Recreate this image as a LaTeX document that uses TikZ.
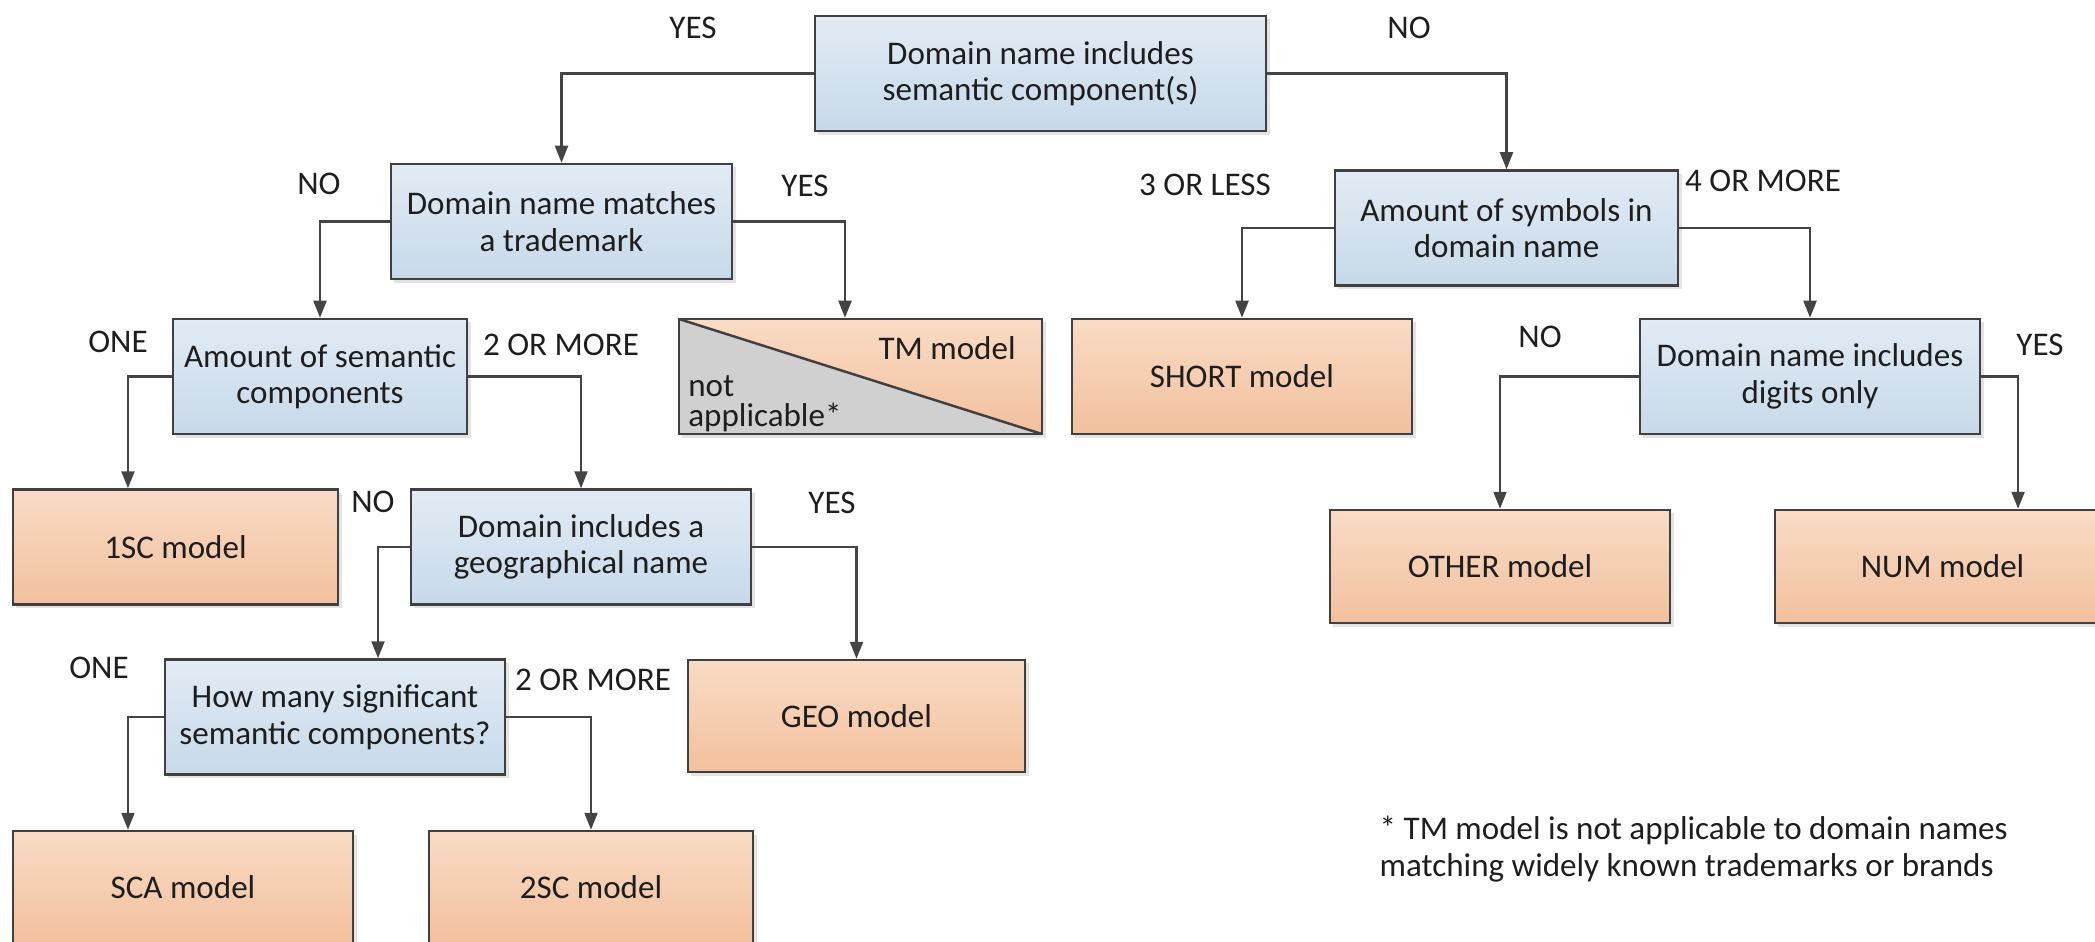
\documentclass[tikz,border=0pt]{standalone}
\usepackage{fontspec}
\setmainfont{Carlito}
\usetikzlibrary{arrows.meta,shadows}
\definecolor{qtop}{HTML}{E2EBF4}
\definecolor{qbot}{HTML}{C7D9EA}
\definecolor{mtop}{HTML}{F9DBC5}
\definecolor{mbot}{HTML}{F2C09D}
\definecolor{tmgray}{HTML}{D0D0D0}
\definecolor{boxline}{HTML}{404040}
\definecolor{wire}{HTML}{444444}
\definecolor{ink}{HTML}{1E1E1E}
\tikzset{
  question/.style={draw=boxline, line width=0.7pt, top color=qtop, bottom color=qbot,
    align=center, text=ink, inner sep=0pt, minimum height=1.15cm,
    drop shadow={shadow xshift=0.035cm, shadow yshift=-0.035cm, opacity=0.22}},
  model/.style={question, top color=mtop, bottom color=mbot},
  answer/.style={text=ink, inner sep=0pt},
  arr/.style={draw=wire, line width=0.6pt, -{Triangle[length=0.17cm,width=0.13cm]}},
}

\begin{document}
\begin{tikzpicture}[x=0.01cm, y=-0.01cm, font=\fontsize{9.4}{10.4}\selectfont]
  %%%%% START %%%%%
  \useasboundingbox (0,0) rectangle (2095,941);
  \clip (0,0) rectangle (2095,941);
  \def\wq{3.40cm}

  \node[question, minimum width=4.51cm] (top) at (1040.5,73.5) {Domain name includes\\semantic component(s)};
  \node[question, minimum width=3.41cm] (q2) at (561.5,221.5) {Domain name matches\\a trademark};
  \node[question, minimum width=3.43cm] (q3) at (1506.5,228) {Amount of symbols in\\domain name};

  \node[question, minimum width=2.94cm] (q4) at (320,376.5) {Amount of semantic\\components};
  \node[model, minimum width=3.63cm, path picture={
      \fill[tmgray] (path picture bounding box.north west) -- (path picture bounding box.south east)
        -- (path picture bounding box.south west) -- cycle;
      \draw[boxline, line width=0.7pt] (path picture bounding box.north west) -- (path picture bounding box.south east);
    }] (tm) at (860.5,376.5) {};
  \node[answer, anchor=east] (tmyes) at ([xshift=-0.27cm, yshift=-0.30cm]tm.north east) {TM model};
  \node[answer, anchor=south west, align=left, font=\fontsize{9.4}{8.6}\selectfont] (tmno)
    at ([xshift=0.10cm, yshift=0.03cm]tm.south west) {not\\applicable*};
  \node[model, minimum width=\wq] (short) at (1242,376.5) {SHORT model};
  \node[question, minimum width=\wq] (q5) at (1810,376.5) {Domain name includes\\digits only};

  \node[model, minimum width=3.25cm] (m1sc) at (175.5,547) {1SC model};
  \node[question, minimum width=\wq] (q6) at (581,547) {Domain includes a\\geographical name};
  \node[model, minimum width=\wq, minimum height=1.13cm] (other) at (1500,566.5) {OTHER model};
  \node[model, minimum width=3.35cm, minimum height=1.13cm] (num) at (1942.5,566.5) {NUM model};

  \node[question, minimum width=\wq] (q7) at (335,717) {How many significant\\semantic components?};
  \node[model, minimum width=3.37cm, minimum height=1.12cm] (geo) at (856.5,716) {GEO model};

  \node[model, minimum width=\wq, minimum height=1.12cm] (sca) at (183,887) {SCA model};
  \node[model, minimum width=3.24cm, minimum height=1.12cm] (sc2) at (591,887) {2SC model};

  \draw[arr] (top.west) -| (q2.north);
  \draw[arr] (top.east) -| (q3.north);
  \draw[arr] (q2.west) -| (q4.north);
  \draw[arr] (q2.east) -| ([xshift=-0.155cm]tm.north);
  \draw[arr] (q3.west) -| (short.north);
  \draw[arr] (q3.east) -| (q5.north);
  \draw[arr] (q4.west) -| ([xshift=-0.475cm]m1sc.north);
  \draw[arr] (q4.east) -| (q6.north);
  \draw[arr] (q5.west) -| (other.north);
  \draw[arr] (q5.east) -| ([xshift=0.755cm]num.north);
  \draw[arr] (q6.west) -| ([xshift=0.43cm]q7.north);
  \draw[arr] (q6.east) -| (geo.north);
  \draw[arr] (q7.west) -| ([xshift=-0.55cm]sca.north);
  \draw[arr] (q7.east) -| (sc2.north);

  \node[answer] (a1) at (693,28) {YES};
  \node[answer] (a2) at (1409,28) {NO};
  \node[answer] (a3) at (319,184) {NO};
  \node[answer] (a4) at (805,186) {YES};
  \node[answer] (a5) at (1205,185) {3 OR LESS};
  \node[answer] (a6) at (1763,181) {4 OR MORE};
  \node[answer] (a7) at (118,342) {ONE};
  \node[answer] (a8) at (561,345) {2 OR MORE};
  \node[answer] (a9) at (1540,337) {NO};
  \node[answer] (a10) at (2040,345) {YES};
  \node[answer] (a11) at (373,502) {NO};
  \node[answer] (a12) at (832,503) {YES};
  \node[answer] (a13) at (99,668) {ONE};
  \node[answer] (a14) at (593,680) {2 OR MORE};

  \node[answer, anchor=west, align=left] (note) at (1379,849)
    {* TM model is not applicable to domain names\\matching widely known trademarks or brands};
  %%%%% END %%%%%
\end{tikzpicture}
\end{document}
